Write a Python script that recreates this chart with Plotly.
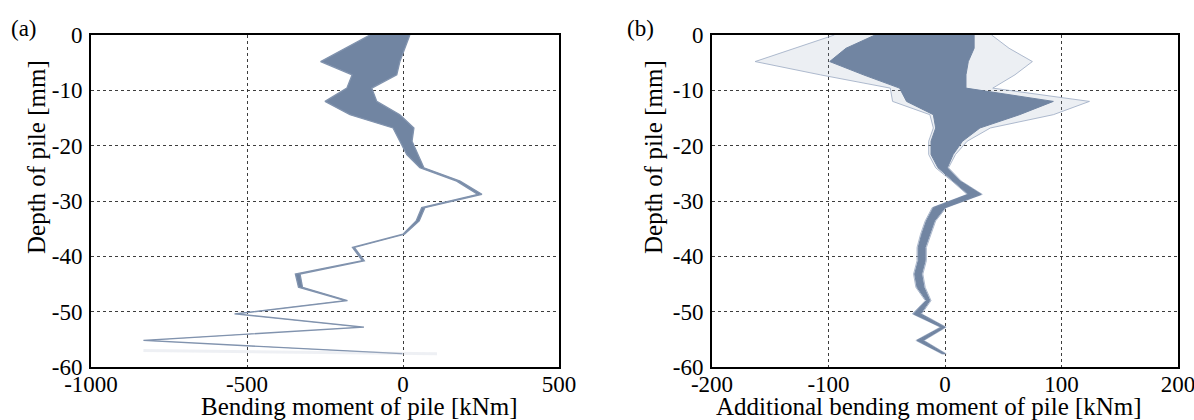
import plotly.graph_objects as go

# Depth nodes along the pile (shared by both panels)
depth = [0, -2.4, -4.8, -7.2, -9.6, -12, -14.4, -16.8, -19.2, -21.6, -24, -26.4, -28.8,
         -31.2, -33.6, -36, -38.4, -40.8, -43.2, -45.6, -48, -50.4, -52.8, -55.2, -57.6]

# (a) bending moment: envelope of the simulated profiles [kNm]
moment_low = [-106, -186, -264, -163, -180, -250, -170, -32, -10, 12, 54, 172, 240,
              60, 42, 0, -162, -130, -345, -335, -185, -540, -131, -832, -6]
moment_high = [22, 6, -10, -20, -100, -84, -10, 35, 29, 48, 67, 183, 253,
               70, 52, 5, -156, -124, -330, -322, -178, -534, -125, -826, -2]
# faint tail at the pile toe
tail_moment = [-832, 109]
tail_depth = [-57.0, -57.6]

# (b) additional bending moment: outer (sparse) and core (dense) envelopes [kNm]
add_outer_low = [-95, -130, -163, -107, -47, -45, -13, -10, -14, -14, -8, 6, 19,
                 -11, -17, -21, -24, -24, -27, -25, -17, -28, -4, -25, -3]
add_outer_high = [40, 55, 75, 60, 41, 124, 93, 39, 19, 9, 3, 14, 32,
                  1, -8, -12, -16, -16, -19, -17, -12, -20, 1, -18, 1]
add_core_low = [-60, -85, -99, -70, -39, -33, -10, -8, -12, -12, -6, 7, 20,
                -10, -16, -20, -23, -23, -26, -24, -16, -27, -3, -24, -2]
add_core_high = [25, 25, 20, 18, 18, 93, 64, 30, 15, 7, 2, 13, 31,
                 0, -9, -13, -17, -17, -20, -18, -13, -21, 0, -19, 0]

# Axis ticks
y_ticks = [0, -10, -20, -30, -40, -50, -60]
y_labels = ["0", "-10", "-20", "-30", "-40", "-50", "-60"]
xa_ticks = [-1000, -500, 0, 500]
xa_labels = ["-1000", "-500", "0", "500"]
xb_ticks = [-200, -100, 0, 100, 200]
xb_labels = ["-200", "-100", "0", "100", "200"]

CORE = "#7185a2"
MID = "#8193ae"
FAINT = "rgba(150,165,190,0.18)"
EDGE = "rgba(160,174,198,0.85)"
FONT = "Liberation Serif"

W, H = 1194, 420


def band(low, high, d):
    return low + high[::-1], d + d[::-1]


fig = go.Figure()

# panel (a)
bx, by = band(moment_low, moment_high, depth)
fig.add_trace(go.Scatter(x=bx, y=by, fill="toself", fillcolor=CORE, mode="lines",
                         line=dict(color=MID, width=1.3), xaxis="x", yaxis="y",
                         hoverinfo="skip", showlegend=False))
fig.add_trace(go.Scatter(x=tail_moment, y=tail_depth, mode="lines",
                         line=dict(color="rgba(200,206,218,0.3)", width=3),
                         xaxis="x", yaxis="y", hoverinfo="skip", showlegend=False))

# panel (b)
ox, oy = band(add_outer_low, add_outer_high, depth)
fig.add_trace(go.Scatter(x=ox, y=oy, fill="toself", fillcolor=FAINT, mode="lines",
                         line=dict(color=EDGE, width=1), xaxis="x2", yaxis="y2",
                         hoverinfo="skip", showlegend=False))
cx, cy = band(add_core_low, add_core_high, depth)
fig.add_trace(go.Scatter(x=cx, y=cy, fill="toself", fillcolor=CORE, mode="lines",
                         line=dict(color=CORE, width=1), xaxis="x2", yaxis="y2",
                         hoverinfo="skip", showlegend=False))

top_px, bot_px = 35, 367
ydom = [1 - bot_px / H, 1 - top_px / H]

common_axis = dict(showline=True, mirror=True, linecolor="black", linewidth=2,
                   showgrid=True, gridcolor="rgba(40,40,40,0.9)", gridwidth=1.3,
                   griddash="3px,3px", zeroline=False, ticks="", automargin=False,
                   ticklabeloverflow="allow",
                   tickfont=dict(family=FONT, size=23, color="black"))

fig.update_layout(
    width=W, height=H, margin=dict(l=0, r=0, t=0, b=0, autoexpand=False),
    paper_bgcolor="white", plot_bgcolor="white",
    xaxis=dict(domain=[91 / W, 559 / W], range=[-1000, 500], tickvals=xa_ticks,
               ticktext=xa_labels, anchor="y", ticklabelstandoff=-5, **common_axis),
    yaxis=dict(domain=ydom, range=[-60, 0], tickvals=y_ticks, ticktext=y_labels,
               anchor="x", ticklabelstandoff=2, **common_axis),
    xaxis2=dict(domain=[712 / W, 1178 / W], range=[-200, 200], tickvals=xb_ticks,
                ticktext=xb_labels, anchor="y2", ticklabelstandoff=-5, **common_axis),
    yaxis2=dict(domain=ydom, range=[-60, 0], tickvals=y_ticks, ticktext=y_labels,
                anchor="x2", ticklabelstandoff=2, **common_axis),
)

ann = [
    dict(text="Bending moment of pile [kNm]", x=359 / W, y=1 - 406 / H),
    dict(text="Additional bending moment of pile [kNm]", x=929 / W, y=1 - 406 / H),
    dict(text="Depth of pile [mm]", x=36 / W, y=1 - 157 / H, textangle=-90),
    dict(text="Depth of pile [mm]", x=653 / W, y=1 - 157 / H, textangle=-90),
    dict(text="(a)", x=24 / W, y=1 - 29 / H, size=23),
    dict(text="(b)", x=640 / W, y=1 - 29 / H, size=23),
]
for a in ann:
    size = a.pop("size", 25)
    fig.add_annotation(xref="paper", yref="paper", showarrow=False,
                       xanchor="center", yanchor="middle",
                       font=dict(family=FONT, size=size, color="black"), **a)

fig.write_html("out.html")
